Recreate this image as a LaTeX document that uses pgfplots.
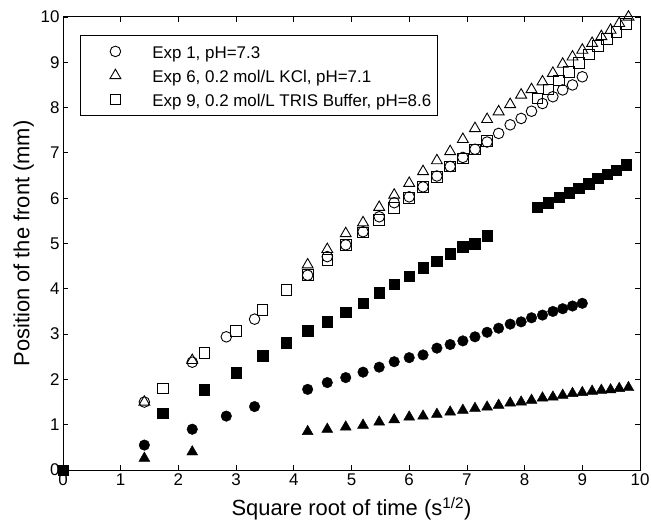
\documentclass[border=0pt]{standalone}
\usepackage{fontspec}
\setmainfont{Liberation Sans}
\usepackage{pgfplots}
\usepackage{pgfplotstable}
\pgfplotsset{compat=1.18}

% Exp 1, pH=7.3
\pgfplotstableread{
x y
1.41 1.50
2.24 2.38
2.83 2.94
3.32 3.33
4.24 4.30
4.58 4.71
4.90 4.97
5.20 5.26
5.48 5.59
5.74 5.90
6.00 6.03
6.24 6.25
6.48 6.49
6.71 6.70
6.93 6.90
7.14 7.08
7.35 7.24
7.55 7.43
7.75 7.62
7.94 7.76
8.12 7.92
8.31 8.09
8.49 8.24
8.66 8.39
8.83 8.50
9.00 8.68
}\eoneopen
\pgfplotstableread{
x y
1.41 0.55
2.24 0.90
2.83 1.19
3.32 1.40
4.24 1.78
4.58 1.93
4.90 2.04
5.20 2.16
5.48 2.27
5.74 2.39
6.00 2.48
6.24 2.54
6.48 2.69
6.71 2.77
6.93 2.85
7.14 2.94
7.35 3.04
7.55 3.13
7.75 3.22
7.94 3.27
8.12 3.36
8.31 3.42
8.49 3.50
8.66 3.56
8.83 3.62
9.00 3.68
}\eonefill

% Exp 6, 0.2 mol/L KCl
\pgfplotstableread{
x y
1.41 1.50
2.24 2.42
4.24 4.53
4.58 4.87
4.90 5.22
5.20 5.46
5.48 5.80
5.74 6.07
6.00 6.33
6.24 6.59
6.48 6.83
6.71 7.03
6.93 7.30
7.14 7.54
7.35 7.74
7.55 7.91
7.75 8.07
7.94 8.28
8.12 8.40
8.31 8.57
8.49 8.76
8.66 8.96
8.83 9.12
9.00 9.27
9.17 9.42
9.33 9.57
9.49 9.71
9.64 9.86
9.80 10.00
}\esixopen
\pgfplotstableread{
x y
1.41 0.26
2.24 0.40
4.24 0.85
4.58 0.90
4.90 0.95
5.20 0.99
5.48 1.06
5.74 1.11
6.00 1.17
6.24 1.19
6.48 1.23
6.71 1.28
6.93 1.32
7.14 1.36
7.35 1.39
7.55 1.43
7.75 1.48
7.94 1.50
8.12 1.54
8.31 1.59
8.49 1.61
8.66 1.65
8.83 1.69
9.00 1.71
9.17 1.74
9.33 1.76
9.49 1.77
9.64 1.80
9.80 1.82
}\esixfill

% Exp 9, 0.2 mol/L TRIS Buffer
\pgfplotstableread{
x y
1.73 1.80
2.45 2.58
3.00 3.07
3.46 3.53
3.87 3.97
4.24 4.30
4.58 4.64
4.90 4.97
5.20 5.24
5.48 5.52
5.74 5.78
6.00 6.00
6.24 6.25
6.48 6.47
6.71 6.70
6.93 6.88
7.14 7.08
7.35 7.27
8.22 8.20
8.41 8.40
8.60 8.60
8.77 8.79
8.94 8.98
9.11 9.17
9.27 9.36
9.43 9.52
9.59 9.67
9.76 9.84
}\enineopen
\pgfplotstableread{
x y
0.00 0.00
1.73 1.25
2.45 1.77
3.00 2.15
3.46 2.52
3.87 2.81
4.24 3.08
4.58 3.27
4.90 3.48
5.20 3.68
5.48 3.91
5.74 4.10
6.00 4.28
6.24 4.47
6.48 4.61
6.71 4.77
6.93 4.93
7.14 4.99
7.35 5.17
8.22 5.80
8.41 5.90
8.60 6.02
8.77 6.12
8.94 6.22
9.11 6.32
9.27 6.44
9.43 6.53
9.59 6.62
9.76 6.74
}\eninefill

\begin{document}
\begin{tikzpicture}
\begin{axis}[
    scale only axis,
    width=577bp, height=453bp,
    xmin=0, xmax=10, ymin=0, ymax=10,
    xtick={0,1,...,10}, ytick={0,1,...,10},
    tick align=inside,
    major tick length=5bp,
    tick style={black, line width=0.8bp},
    axis line style={line width=1bp},
    /pgf/number format/assume math mode=true,
    tick label style={font=\fontsize{17}{20}\selectfont},
    label style={font=\fontsize{22}{26}\selectfont},
    xlabel={Square root of time (s\textsuperscript{1/2})},
    xlabel style={yshift=-5bp},
    ylabel={Position of the front (mm)},
    clip=false,
    legend image code/.code={%
        \path[draw=none] (0bp,0bp) -- (66bp,0bp);
        \draw[#1,/tikz/only marks] plot coordinates {(31bp,0bp)};},
    legend cell align=left,
    legend style={at={(rel axis cs:0.0295,0.960)}, anchor=north west,
        draw=black, line width=0.8bp,
        font=\fontsize{17}{20}\selectfont,
        inner xsep=4bp, inner ysep=3.85bp, row sep=0bp,
        nodes={inner xsep=2bp, inner ysep=1.8bp, text height=17.5bp, text depth=3bp}},
]
\coordinate (O) at (rel axis cs:0,0);
\addplot[/tikz/only marks, black, mark=o, mark size=5.3bp,
    mark options={line width=0.9bp, fill=none}] table {\eoneopen};
\addlegendentry{Exp 1, pH=7.3}
\addplot[/tikz/only marks, black, mark=triangle, mark size=6.3bp,
    mark options={line width=0.9bp, fill=none}] table {\esixopen};
\addlegendentry{Exp 6, 0.2 mol/L KCl, pH=7.1}
\addplot[/tikz/only marks, black, mark=square, mark size=5.3bp,
    mark options={line width=0.9bp, fill=none}] table {\enineopen};
\addlegendentry{Exp 9, 0.2 mol/L TRIS Buffer, pH=8.6}

\addplot[/tikz/only marks, black, mark=*, mark size=5.3bp, forget plot] table {\eonefill};
\addplot[/tikz/only marks, black, mark=triangle*, mark size=6.3bp, forget plot] table {\esixfill};
\addplot[/tikz/only marks, black, mark=square*, mark size=5.3bp, forget plot] table {\eninefill};
\end{axis}
\pgfresetboundingbox
\path[use as bounding box] ([shift={(-63bp,-57bp)}]O) rectangle ++(651bp,527bp);
\end{tikzpicture}
\end{document}
